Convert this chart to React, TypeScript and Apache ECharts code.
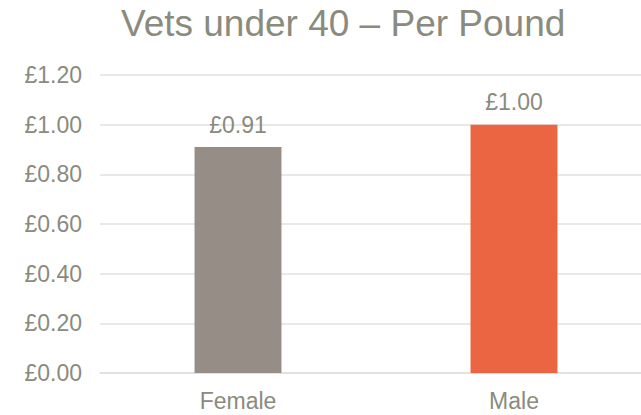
import React, { useEffect, useRef } from "react";
import * as echarts from "echarts";

const categories = ["Female", "Male"];
const values = [0.91, 1.0];
const barColors = ["#968d87", "#ec6542"];
const titleText = "Vets under 40 \u2013 Per Pound";

export default function App() {
  const ref = useRef<HTMLDivElement>(null);
  useEffect(() => {
    if (!ref.current) return;
    const chart = echarts.init(ref.current, undefined, { renderer: "svg" });
    const textColor = "#8a8b7e";
    chart.setOption({
      animation: false,
      title: {
        text: titleText,
        left: 116,
        top: 0,
        textStyle: {
          color: textColor,
          fontSize: 37,
          fontWeight: "normal",
          fontFamily: "Liberation Sans, Arial, sans-serif",
        },
      },
      grid: { left: 100, top: 75, bottom: 42, width: 552, outerBoundsMode: "none" },
      xAxis: {
        type: "category",
        data: categories,
        axisLine: { show: true, lineStyle: { color: "#e0e0e0", width: 1.5 } },
        axisTick: { show: false },
        axisLabel: {
          color: textColor,
          fontSize: 23,
          margin: 16,
          fontFamily: "Liberation Sans, Arial, sans-serif",
        },
      },
      yAxis: {
        type: "value",
        min: 0,
        max: 1.2,
        interval: 0.2,
        axisLine: { show: false },
        axisTick: { show: false },
        splitLine: { lineStyle: { color: "#e0e0e0", width: 1.5 } },
        axisLabel: {
          color: textColor,
          fontSize: 23,
          margin: 18,
          fontFamily: "Liberation Sans, Arial, sans-serif",
          formatter: (v: number) => "\u00a3" + v.toFixed(2),
        },
      },
      series: [
        {
          type: "bar",
          barWidth: "31.5%",
          data: values.map((v, i) => ({ value: v, itemStyle: { color: barColors[i] } })),
          label: {
            show: true,
            position: "top",
            distance: 11,
            color: textColor,
            fontSize: 23,
            fontFamily: "Liberation Sans, Arial, sans-serif",
            formatter: (p: any) => "\u00a3" + Number(p.value).toFixed(2),
          },
        },
      ],
    });
    return () => chart.dispose();
  }, []);
  return (
    <div
      style={{
        position: "fixed",
        left: 0,
        top: 0,
        width: 641,
        height: 415,
        overflow: "hidden",
        background: "#fff",
      }}
    >
      <div ref={ref} style={{ width: 670, height: 415 }} />
    </div>
  );
}
